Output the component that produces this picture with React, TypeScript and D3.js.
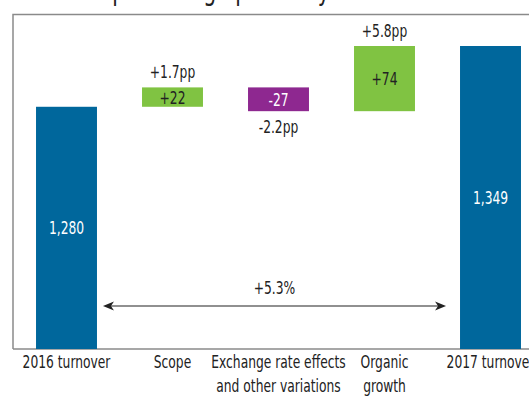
import React from "react";
import * as d3 from "d3";

// waterfall: turnover bridge 2016 -> 2017
const categories = [
  "2016 turnover",
  "Scope",
  "Exchange rate effects|and other variations",
  "Organic|growth",
  "2017 turnover",
];
const kinds = ["total", "delta", "delta", "delta", "total"];
const values = [1280, 22, -27, 74, 1349];
const valueLabels = ["1,280", "+22", "-27", "+74", "1,349"];
const ppLabels = ["", "+1.7pp", "-2.2pp", "+5.8pp", ""];
const growthLabel = "+5.3%";
// only the descenders of the title survive the crop at the top
const titleText = "In €m and percentage points by driver";

const W = 529;
const H = 401;
const frame = { left: 13, top: 14.5, bottom: 349 };
const font = "'Liberation Sans Narrow', 'DejaVu Sans Condensed', sans-serif";
const BLUE = "#00679c";
const GREEN = "#80c342";
const PURPLE = "#8e2890";
const SQUEEZE = 0.76; // the source font is much narrower than anything installed

function Label({
  x,
  y,
  children,
  fill = "#222",
  size = 18,
  dy,
  anchor = "middle",
}: {
  x: number;
  y: number;
  children: React.ReactNode;
  fill?: string;
  size?: number;
  dy?: string;
  anchor?: string;
}) {
  return (
    <g transform={`translate(${x},${y}) scale(${SQUEEZE},1)`}>
      <text textAnchor={anchor} fontSize={size} fill={fill} dy={dy}>
        {children}
      </text>
    </g>
  );
}

export default function App() {
  const x = d3
    .scaleBand<string>()
    .domain(categories)
    .range([13.5, 543.5])
    .paddingInner(0.425)
    .paddingOuter(0.2125);

  const y = d3.scaleLinear().domain([1005, 1349]).range([frame.bottom, 46]);

  // running totals for the floating bars
  let run = 0;
  const bars = values.map((v, i) => {
    let start: number, end: number;
    if (kinds[i] === "total") {
      start = y.domain()[0];
      end = v;
      run = v;
    } else {
      start = run;
      end = run + v;
      run = end;
    }
    const color = kinds[i] === "total" ? BLUE : v >= 0 ? GREEN : PURPLE;
    return { cat: categories[i], start, end, color, v, i };
  });

  const bw = x.bandwidth();
  const arrowY = 306;
  const ax0 = (x(categories[0]) ?? 0) + bw + 6;
  const ax1 = (x(categories[4]) ?? 0) - 14;

  return (
    <svg
      width={W}
      height={H}
      style={{ position: "absolute", left: 0, top: 0, background: "#fff" }}
      fontFamily={font}
    >
      <Label x={2} y={0} size={30} anchor="start">
        {titleText}
      </Label>
      <path
        d={`M${frame.left},${frame.bottom}V${frame.top}H${W + 5}`}
        fill="none"
        stroke="#8a8a8a"
        strokeWidth={1.5}
      />
      <path
        d={`M${frame.left},${frame.bottom}H${W + 5}`}
        fill="none"
        stroke="#8a8a8a"
        strokeWidth={1.5}
      />
      {bars.map((b) => {
        const x0 = x(b.cat) ?? 0;
        const top = y(Math.max(b.start, b.end));
        const bot = y(Math.min(b.start, b.end));
        const cx = x0 + bw / 2;
        const light = b.color === GREEN;
        return (
          <g key={b.cat}>
            <rect x={x0} y={top} width={bw} height={bot - top} fill={b.color} />
            <Label x={cx} y={(top + bot) / 2} dy="0.36em" fill={light ? "#222" : "#fff"}>
              {valueLabels[b.i]}
            </Label>
            {ppLabels[b.i] && (
              <Label x={cx} y={b.v >= 0 ? top - 9 : bot + 22}>
                {ppLabels[b.i]}
              </Label>
            )}
            {b.cat.split("|").map((line, k) => (
              <Label key={k} x={cx} y={368 + k * 23.5}>
                {line}
              </Label>
            ))}
          </g>
        );
      })}
      <line x1={ax0 + 6} x2={ax1 - 6} y1={arrowY} y2={arrowY} stroke="#222" strokeWidth={1.2} />
      <path
        d={`M${ax0},${arrowY}L${ax0 + 11},${arrowY - 4.5}L${ax0 + 8},${arrowY}L${ax0 + 11},${arrowY + 4.5}Z`}
        fill="#222"
      />
      <path
        d={`M${ax1},${arrowY}L${ax1 - 11},${arrowY - 4.5}L${ax1 - 8},${arrowY}L${ax1 - 11},${arrowY + 4.5}Z`}
        fill="#222"
      />
      <Label x={(ax0 + ax1) / 2} y={arrowY - 12}>
        {growthLabel}
      </Label>
    </svg>
  );
}
